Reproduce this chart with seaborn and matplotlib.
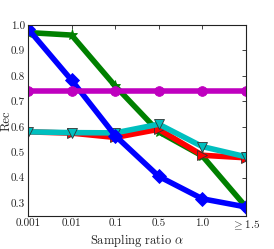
import matplotlib

matplotlib.use("Agg")

import matplotlib.pyplot as plt  # noqa: E402
import pandas as pd  # noqa: E402
import seaborn as sns  # noqa: E402

# Sampling ratios (categorical x axis) and recall per method.
RATIOS = ["0.001", "0.01", "0.1", "0.5", "1.0", r"$\geq 1.5$"]
REC_GREEN = [0.97, 0.96, 0.76, 0.58, 0.485, 0.285]
REC_RED = [0.58, 0.575, 0.558, 0.59, 0.488, 0.478]
REC_CYAN = [0.58, 0.577, 0.576, 0.61, 0.522, 0.482]
REC_BLUE = [0.985, 0.783, 0.565, 0.405, 0.317, 0.285]
REC_MAGENTA = [0.74, 0.74, 0.74, 0.74, 0.74, 0.74]

# Drawing order follows the reference's stacking (green lowest, magenta top).
SERIES = [
    ("green", REC_GREEN, (0, 0.5, 0), "*"),
    ("red", REC_RED, (1, 0, 0), ">"),
    ("cyan", REC_CYAN, (0, 0.75, 0.75), "v"),
    ("blue", REC_BLUE, (0, 0, 1), "D"),
    ("magenta", REC_MAGENTA, (0.75, 0, 0.75), "o"),
]

sns.set_style("white")
plt.rcParams["font.family"] = ["cmr10", "DejaVu Serif"]
plt.rcParams["mathtext.fontset"] = "cm"
plt.rcParams["axes.formatter.use_mathtext"] = True

fig = plt.figure(figsize=(2.74, 2.49), dpi=100)
ax = fig.add_axes([0.102, 0.133, 0.796, 0.767])

for name, vals, color, marker in SERIES:
    df = pd.DataFrame({"x": range(len(RATIOS)), "rec": vals})
    sns.lineplot(
        data=df, x="x", y="rec", ax=ax, color=color, linewidth=4,
        marker=marker, markersize=7 if marker != "*" else 8,
        markeredgecolor=(0.2, 0.2, 0.2) if name in ("red", "cyan") else color,
        markeredgewidth=0.6,
    )

ax.set_xlim(0, len(RATIOS) - 1)
ax.set_ylim(0.25, 1.0)
ax.set_xticks(range(len(RATIOS)))
ax.set_xticklabels(RATIOS)
ax.set_yticks([0.3, 0.4, 0.5, 0.6, 0.7, 0.8, 0.9, 1.0])
ax.set_yticklabels(["0.3", "0.4", "0.5", "0.6", "0.7", "0.8", "0.9", "1.0"])
ax.tick_params(direction="in", length=3, width=0.6, labelsize=8,
               top=True, right=True, pad=2, colors="#222222")
for s in ax.spines.values():
    s.set_linewidth(0.8)
    s.set_color("#222222")
ax.set_xlabel(r"Sampling ratio $\alpha$", fontsize=9, labelpad=0)
ax.set_ylabel("Rec", fontsize=9, fontweight="bold")
ax.yaxis.set_label_coords(-0.072, 0.5)

fig.savefig("out.png", dpi=100)
